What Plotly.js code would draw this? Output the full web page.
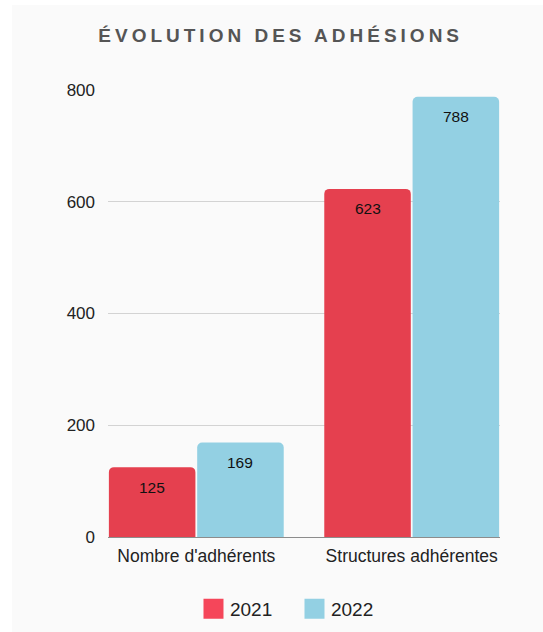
<!DOCTYPE html>
<html>
<head>
<meta charset="utf-8">
<script src="https://cdn.plot.ly/plotly-3.0.1.min.js"></script>
<style>
  html, body { margin: 0; padding: 0; background: #ffffff; }
  #chart { position: absolute; left: 12px; top: 5px; width: 531px; height: 627px; }
  .gtitle { letter-spacing: 4px; }
  .legend .legendpoints path { d: path("M13.5,10H-6.5V-10H13.5Z"); }
  .legend .traces:first-child .legendpoints path { fill: #f5465a !important; }
</style>
</head>
<body>
<div id="chart"></div>
<script>
const categories = ["Nombre d'adhérents", "Structures adhérentes"];
const years = ["2021", "2022"];
const values2021 = [125, 623];
const values2022 = [169, 788];
const yTicks = [0, 200, 400, 600, 800];

const colors = ["#e5404f", "#93d0e3"];
const seriesValues = [values2021, values2022];

const traces = years.map((yr, k) => ({
  type: 'bar',
  name: yr,
  x: categories,
  y: seriesValues[k],
  marker: { color: colors[k], line: { width: 0 } },
  hoverinfo: 'x+y+name'
}));

const bargap = 0.18;
const barOffset = (1 - bargap) / 4;
const annotations = [];
seriesValues.forEach((vals, k) => {
  vals.forEach((v, i) => {
    annotations.push({
      x: i + (k === 0 ? -barOffset : barOffset),
      y: v,
      xref: 'x', yref: 'y',
      text: String(v),
      showarrow: false,
      yanchor: 'middle',
      yshift: -20,
      font: { family: 'Liberation Sans, Arial, sans-serif', size: 15.5, color: '#111111' }
    });
  });
});

const layout = {
  width: 531,
  height: 627,
  paper_bgcolor: '#fafafa',
  plot_bgcolor: '#fafafa',
  margin: { l: 96, r: 43, t: 85, b: 95 },
  font: { family: 'Liberation Sans, Arial, sans-serif', color: '#222222' },
  title: {
    text: '<b>ÉVOLUTION DES ADHÉSIONS</b>',
    font: { family: 'Liberation Sans, Arial, sans-serif', size: 19, color: '#555555' },
    xref: 'container', yref: 'container',
    x: 0.506, xanchor: 'center',
    y: 0.952, yanchor: 'middle'
  },
  barmode: 'group',
  bargap: bargap,
  bargroupgap: 0.02,
  barcornerradius: 5,
  xaxis: {
    type: 'category',
    range: [-0.41, 1.41],
    showgrid: false,
    showline: false,
    ticks: '',
    ticklabelstandoff: 6,
    tickfont: { size: 17.5, color: '#222222' },
    fixedrange: true
  },
  yaxis: {
    range: [0, 800],
    tickvals: yTicks,
    ticktext: yTicks.map(String),
    showgrid: true,
    gridcolor: '#d3d3d3',
    gridwidth: 1,
    zeroline: true,
    zerolinecolor: '#8c8c8c',
    zerolinewidth: 1,
    showline: false,
    ticks: '',
    ticklabelstandoff: 12,
    tickfont: { size: 17, color: '#222222' },
    fixedrange: true
  },
  showlegend: true,
  legend: {
    orientation: 'h',
    xref: 'container', yref: 'container',
    x: 0.5254, xanchor: 'center',
    y: 0.037, yanchor: 'middle',
    font: { size: 19, color: '#222222' },
    entrywidth: 56,
    entrywidthmode: 'pixels',
    bgcolor: 'rgba(0,0,0,0)'
  },
  annotations: annotations
};

Plotly.newPlot('chart', traces, layout, { displayModeBar: false, staticPlot: true });
</script>
</body>
</html>
